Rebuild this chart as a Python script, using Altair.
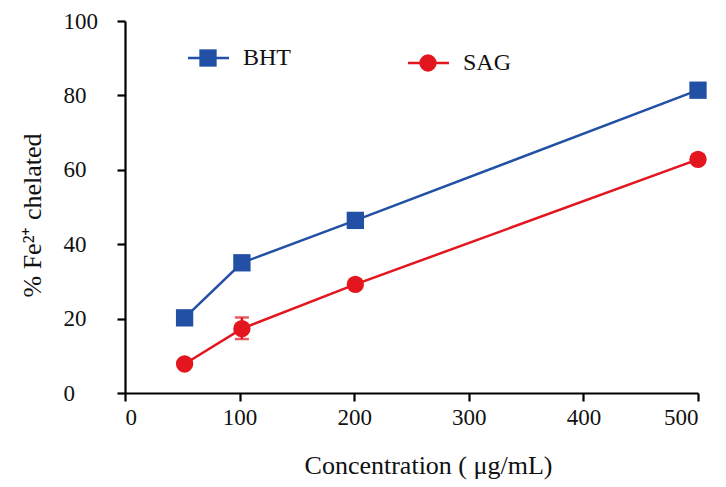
import altair as alt
import pandas as pd

# Data
concentration = [52, 102, 201, 500]
bht = [20.2, 35.0, 46.4, 81.4]
sag = [7.8, 17.3, 29.2, 62.8]
sag_err_low = [None, 14.5, None, None]
sag_err_high = [None, 20.3, None, None]
series = ["BHT", "SAG"]
colors = ["#2150A4", "#E3151F"]
shapes = ["square", "circle"]

rows = []
for c, v in zip(concentration, bht):
    rows.append({"conc": c, "value": v, "series": "BHT"})
for c, v in zip(concentration, sag):
    rows.append({"conc": c, "value": v, "series": "SAG"})
df = pd.DataFrame(rows)

err = pd.DataFrame([
    {"conc": c, "lo": lo, "hi": hi, "series": "SAG"}
    for c, lo, hi in zip(concentration, sag_err_low, sag_err_high) if lo is not None
])

FONT = "Liberation Serif"

x_enc = alt.X("conc:Q",
              scale=alt.Scale(domain=[0, 500], nice=False, zero=True),
              axis=alt.Axis(values=[0, 100, 200, 300, 400, 500], grid=False,
                            domainColor="black", domainWidth=2.2, tickColor="black",
                            tickWidth=2.2, tickSize=8, labelFont=FONT, labelFontSize=23,
                            labelColor="#111", labelPadding=5,
                            title="Concentration ( μg/mL)", titleFont=FONT,
                            titleFontSize=26, titleFontWeight="normal", titleColor="#111",
                            titleX=303, titleY=72, titleBaseline="middle"))
y_enc = alt.Y("value:Q",
              scale=alt.Scale(domain=[0, 100], nice=False),
              axis=alt.Axis(values=[0, 20, 40, 60, 80, 100], grid=False,
                            domainColor="black", domainWidth=2.2, tickColor="black",
                            tickWidth=2.2, tickSize=8, labelFont=FONT, labelFontSize=23,
                            labelColor="#111", labelAlign="left", labelPadding=54,
                            title="% Fe²⁺ chelated", titleFont=FONT,
                            titleFontSize=26, titleFontWeight="normal", titleColor="#111",
                            titleX=-93, titleY=194, titleBaseline="middle"))
color_enc = alt.Color("series:N", scale=alt.Scale(domain=series, range=colors), legend=None)
shape_enc = alt.Shape("series:N", scale=alt.Scale(domain=series, range=shapes), legend=None)

lines = alt.Chart(df).mark_line(strokeWidth=2.5).encode(x=x_enc, y=y_enc, color=color_enc)

err_rule = alt.Chart(err).mark_rule(strokeWidth=2.5, color=colors[1]).encode(
    x="conc:Q", y="lo:Q", y2="hi:Q")
err_cap_hi = alt.Chart(err).mark_tick(orient="horizontal", size=14, thickness=2.5,
                                      color=colors[1]).encode(x="conc:Q", y="hi:Q")
err_cap_lo = alt.Chart(err).mark_tick(orient="horizontal", size=14, thickness=2.5,
                                      color=colors[1]).encode(x="conc:Q", y="lo:Q")

points = alt.Chart(df).mark_point(filled=True, opacity=1, size=300).encode(
    x="conc:Q", y="value:Q", color=color_enc, shape=shape_enc)

# Manual legend (line + marker + label)
legend_layers = []
legend_pos = [(63, 37), (283, 42)]  # pixel positions of legend line start, within plot
for name, col, shp, (lx, ly) in zip(series, colors, shapes, legend_pos):
    ldf = pd.DataFrame({"series": [name]})
    legend_layers.append(alt.Chart(ldf).mark_rule(color=col, strokeWidth=2.5).encode(
        x=alt.value(lx), x2=alt.value(lx + 41), y=alt.value(ly)))
    legend_layers.append(alt.Chart(ldf).mark_point(filled=True, opacity=1, size=300,
                                                   color=col, shape=shp).encode(
        x=alt.value(lx + 20), y=alt.value(ly)))
    legend_layers.append(alt.Chart(ldf).mark_text(font=FONT, fontSize=24, color="#111",
                                                  align="left", baseline="middle").encode(
        x=alt.value(lx + 55), y=alt.value(ly), text="series:N"))

chart = alt.layer(lines, err_rule, err_cap_hi, err_cap_lo, points, *legend_layers).properties(
    width=573, height=372,
    autosize=alt.AutoSizeParams(type="none"),
    padding={"left": 117, "top": 13, "right": 12, "bottom": 90},
    background="white",
).configure_view(stroke=None)

chart.save("out.html", embed_options={"renderer": "svg", "actions": False})
